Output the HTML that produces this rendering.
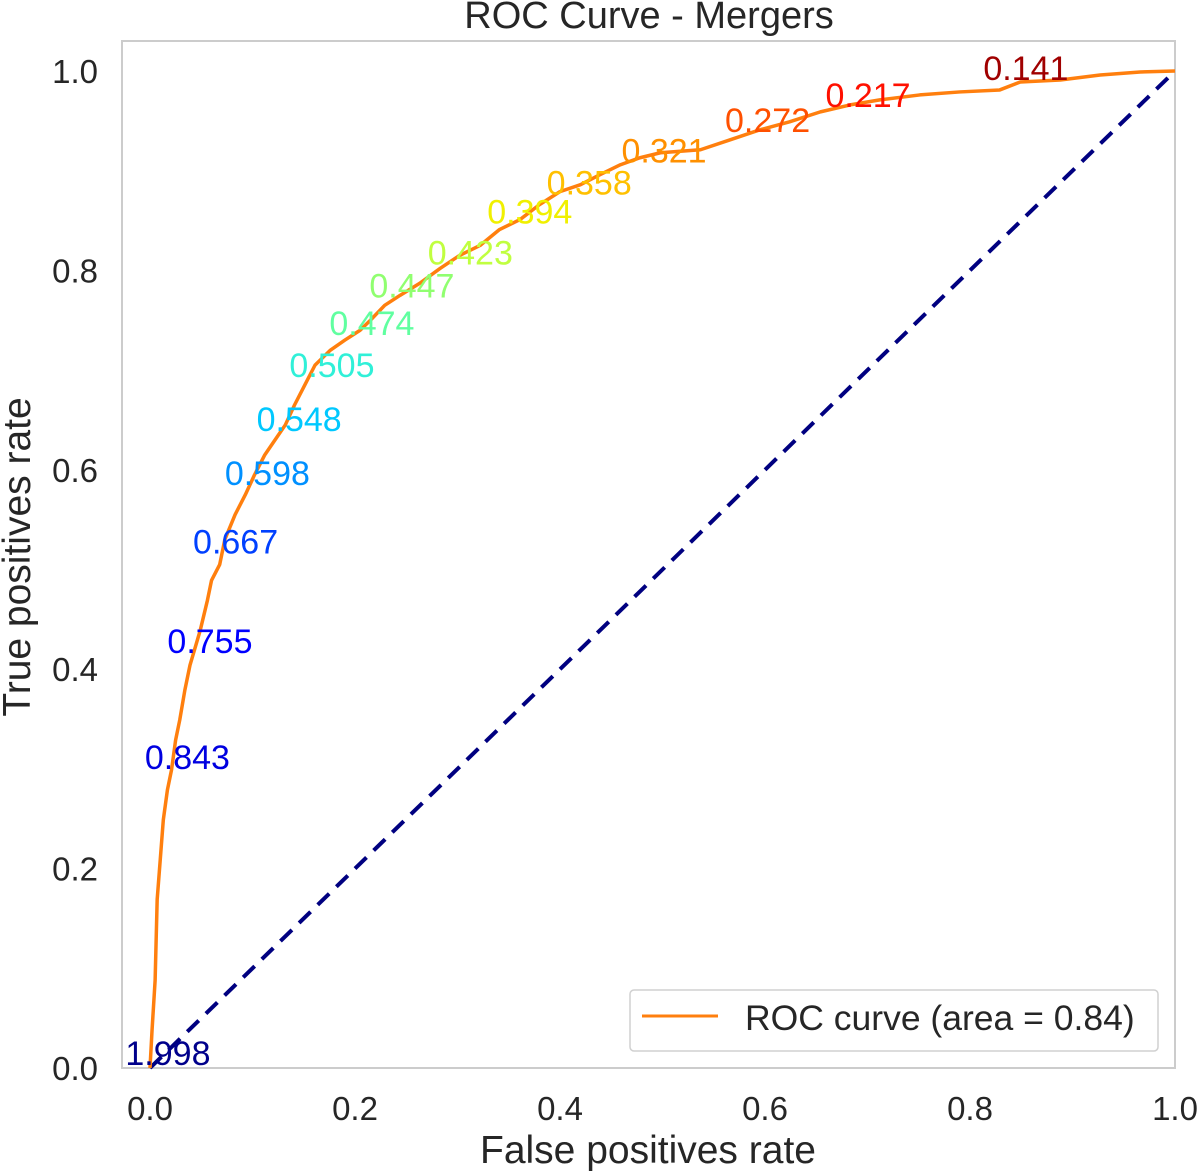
<!DOCTYPE html>
<html><head><meta charset="utf-8"><style>
html,body{margin:0;padding:0;background:#fff;}
svg{display:block;font-family:"Liberation Sans",Arial,sans-serif;}
</style></head><body>
<svg id="chart" width="1200" height="1172" viewBox="0 0 1200 1172" xmlns="http://www.w3.org/2000/svg">
<text x="649" y="28" font-size="38" text-anchor="middle" fill="#262626">ROC Curve - Mergers</text>
<rect x="122" y="41" width="1053" height="1027" fill="#fff" stroke="#cccccc" stroke-width="2"/>
<g id="ticks"></g>
<g id="marks"></g>
<g id="labels"></g>
<text x="648" y="1163" font-size="39" text-anchor="middle" fill="#262626">False positives rate</text>
<text transform="translate(30,557) rotate(-90)" font-size="39" text-anchor="middle" fill="#262626">True positives rate</text>
<g>
<rect x="630" y="990" width="528" height="61" rx="4" fill="#fff" stroke="#d0d0d0" stroke-width="1.5"/>
<line x1="642" y1="1016" x2="718" y2="1016" stroke="#ff7f0e" stroke-width="3"/>
<text x="745" y="1030" font-size="35.5" fill="#262626">ROC curve (area = 0.84)</text>
</g>
</svg>
<script>
const fpr=[0,.002,.005,.007,.010,.013,.017,.021,.025,.029,.034,.039,.049,.056,.060,.068,.073,.083,.093,.102,.112,.122,.132,.141,.151,.161,.176,.190,.205,.215,.229,.244,.263,.283,.302,.322,.341,.361,.380,.400,.420,.439,.459,.478,.498,.537,.566,.595,.624,.654,.683,.712,.751,.790,.829,.849,.888,.927,.966,1];
const tpr=[0,.038,.088,.169,.209,.249,.279,.299,.329,.349,.379,.404,.439,.469,.489,.505,.530,.555,.575,.595,.615,.630,.645,.665,.685,.705,.720,.730,.740,.750,.765,.775,.787,.802,.815,.825,.841,.851,.866,.879,.886,.896,.906,.913,.918,.921,.931,.941,.949,.959,.966,.971,.976,.979,.981,.989,.991,.996,.999,1];
const thrText=["1.998","0.843","0.755","0.667","0.598","0.548","0.505","0.474","0.447","0.423","0.394","0.358","0.321","0.272","0.217","0.141"];
const thrX=[-.024,-.005,.017,.042,.073,.104,.136,.175,.214,.271,.329,.387,.460,.561,.659,.813];
const thrY=[.003,.300,.416,.516,.585,.639,.693,.735,.773,.806,.847,.876,.908,.939,.964,.991];
const thrColor=["#00008b","#0000e0","#0000ff","#0040ff","#0090ff","#00c8ff","#30f0d8","#60ffa0","#90ff70","#c0ff40","#f0f000","#ffc000","#ff9000","#ff5000","#ff1000","#a00000"];
const xTicks=[0,0.2,0.4,0.6,0.8,1.0];
const yTicks=[0,0.2,0.4,0.6,0.8,1.0];
const X=v=>150+v*1025, Y=v=>1068-v*997;
const NS="http://www.w3.org/2000/svg";
function mk(tag,attrs,parent){const e=document.createElementNS(NS,tag);for(const k in attrs)e.setAttribute(k,attrs[k]);parent.appendChild(e);return e;}
const tg=document.getElementById('ticks');
xTicks.forEach(t=>{const e=mk('text',{x:X(t),y:1120,'font-size':33,'text-anchor':'middle',fill:'#262626'},tg);e.textContent=t.toFixed(1);

});
yTicks.forEach(t=>{const e=mk('text',{x:98,y:Y(t)+12,'font-size':33,'text-anchor':'end',fill:'#262626'},tg);e.textContent=t.toFixed(1);

});
const mg=document.getElementById('marks');
const diag=mk('line',{x1:X(0),y1:Y(0),x2:X(1),y2:Y(1),stroke:'#000080','stroke-width':4,'stroke-dasharray':'16 10'},mg);


const curve=mk('polyline',{points:fpr.map((v,i)=>X(v)+','+Y(tpr[i])).join(' '),fill:'none',stroke:'#ff7f0e','stroke-width':3.5,'stroke-linejoin':'round'},mg);


const lg=document.getElementById('labels');
thrText.forEach((t,i)=>{const e=mk('text',{x:X(thrX[i]),y:Y(thrY[i]),'font-size':34,fill:thrColor[i]},lg);e.textContent=t;

});
</script>
</body></html>
